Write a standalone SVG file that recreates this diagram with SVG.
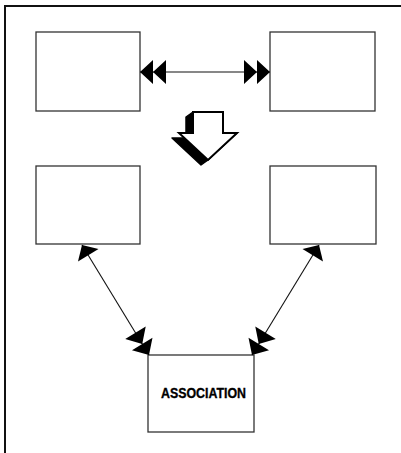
<svg xmlns="http://www.w3.org/2000/svg" width="401" height="453" viewBox="0 0 401 453">
  <style>
    .box { fill: #ffffff; stroke: #333333; stroke-width: 1.3; }
    .conn { stroke: #111111; stroke-width: 1.1; fill: none; }
    .frame { stroke: #111111; stroke-width: 2; fill: none; }
    .label { font-family: "Liberation Sans", Arial, sans-serif; font-weight: bold; font-size: 15px; fill: #000000; stroke: #000000; stroke-width: 0.35; }
  </style>
  <defs>
    <!-- filled double arrowhead, tip at the line end -->
    <marker id="dbl" markerUnits="userSpaceOnUse" orient="auto-start-reverse" overflow="visible" markerWidth="30" markerHeight="30" refX="0" refY="0">
      <path d="M0,0 L-13,-12 L-13,12 Z M-13,0 L-26,-12 L-26,12 Z" fill="#000"/>
    </marker>
    <!-- filled single arrowhead -->
    <marker id="one" markerUnits="userSpaceOnUse" orient="auto-start-reverse" overflow="visible" markerWidth="20" markerHeight="30" refX="0" refY="0">
      <path d="M0,0 L-12,-12 L-12,12 Z" fill="#000"/>
    </marker>
  </defs>

  <!-- outer frame (top and left edges) -->
  <path class="frame" d="M5,453 L5,6 L401,6"/>

  <g id="box-top-left"><rect class="box" x="36" y="32" width="104" height="79"/></g>
  <g id="box-top-right"><rect class="box" x="270" y="32" width="105" height="79"/></g>
  <g id="box-mid-left"><rect class="box" x="36" y="166" width="104" height="78"/></g>
  <g id="box-mid-right"><rect class="box" x="270" y="166" width="106" height="78"/></g>
  <g id="box-association">
    <rect class="box" x="148" y="355" width="106" height="77"/>
    <text class="label" x="203.5" y="397.5" text-anchor="middle" textLength="85" lengthAdjust="spacingAndGlyphs">ASSOCIATION</text>
  </g>

  <!-- hollow block arrow with extruded shadow to the lower left -->
  <g id="block-arrow">
    <polygon points="193,112 223,112 223,133 237,133 208,160 201,165 172,138 186,138 186,117" fill="#000" stroke="#000" stroke-width="1.5" stroke-linejoin="round"/>
    <polygon points="193,112 223,112 223,133 237,133 208,160 179,133 193,133" fill="#fff" stroke="#000" stroke-width="2"/>
  </g>

  <g id="connectors">
    <line class="conn" x1="140" y1="72" x2="270" y2="72" marker-start="url(#dbl)" marker-end="url(#dbl)"/>
    <line class="conn" x1="82" y1="245" x2="149" y2="355" marker-start="url(#one)" marker-end="url(#dbl)"/>
    <line class="conn" x1="319" y1="245" x2="252" y2="355" marker-start="url(#one)" marker-end="url(#dbl)"/>
  </g>
</svg>
